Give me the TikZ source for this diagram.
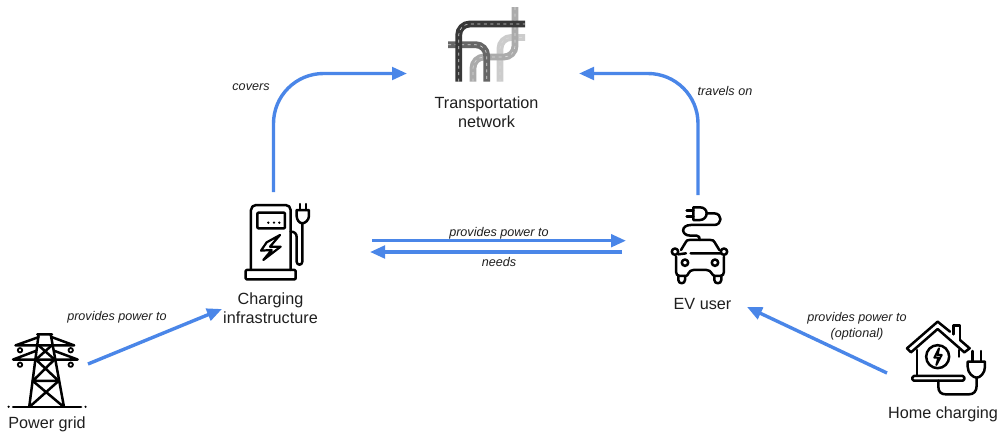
\documentclass[tikz,border=0pt]{standalone}
\usepackage{fontspec}
\setmainfont{Liberation Sans}
\definecolor{flowblue}{HTML}{4A86E8}
\definecolor{inkgray}{HTML}{1F1F1F}
\tikzset{
  flow/.style={draw=flowblue, line width=3.4pt, -{Triangle[length=15pt,width=12.5pt]}},
  title/.style={inner sep=0pt, align=center, text=inkgray, font=\fontsize{16.2}{19.4}\selectfont},
  relation/.style={inner sep=0pt, align=center, text=inkgray, font=\fontsize{12.6}{15.5}\selectfont\itshape},
  icon/.style={draw=black, line width=2.5pt, line cap=round, line join=round},
  road/.style={line width=6.8pt, rounded corners=11pt},
  lane/.style={draw=white!85!black, line width=0.6pt, dash pattern=on 3pt off 3.5pt, rounded corners=11pt}
}
\usetikzlibrary{arrows.meta}
\begin{document}
\begin{tikzpicture}[x=1pt,y=-1pt]
  \useasboundingbox[fill=white] (0,0) rectangle (1005,434);

  % transportation network icon
  \draw[road,draw=black!20] (500,81.7) -- (500,37.5) -- (525,37.5);
  \draw[lane] (500,81.7) -- (500,37.5) -- (525,37.5);
  \draw[road,draw=black!33] (515,7) -- (515,57) -- (473,57) -- (473,81.7);
  \draw[lane] (515,7) -- (515,57) -- (473,57) -- (473,81.7);
  \draw[road,draw=black!60] (448,44.7) -- (486.7,44.7) -- (486.7,81.7);
  \draw[lane] (448,44.7) -- (486.7,44.7) -- (486.7,81.7);
  \draw[road,draw=black!78] (458.7,81.7) -- (458.7,24) -- (525,24);
  \draw[lane] (458.7,81.7) -- (458.7,24) -- (525,24);

  % charging station icon
  \begin{scope}[shift={(225,190)},x=0.3333pt,y=-0.3333pt]
    \draw[icon,rounded corners=5pt] (78,240) -- (78,45) -- (197,45) -- (197,240);
    \draw[icon,rounded corners=1pt] (62,240) rectangle (212,268);
    \draw[icon,rounded corners=1pt] (97,68) rectangle (180,115);
    \foreach \dotx in {130,147,163}
      \fill (\dotx,98) circle (1.3pt);
    \draw[icon,line width=2.2pt] (165,135) -- (125,157) -- (108,182) -- (140,180) -- (115,210) -- (167,170) -- (135,170) -- cycle;
    \draw[icon] (197,125) .. controls (208,125) and (215,130) .. (215,142) -- (215,215) .. controls (215,227) and (232,227) .. (232,215) -- (232,100);
    \draw[icon] (215,60) -- (252,60) -- (252,78) .. controls (252,90) and (240,100) .. (232,100) .. controls (224,100) and (215,90) .. (215,78) -- cycle;
    \draw[icon] (225,42) -- (225,60) (243,42) -- (243,60);
  \end{scope}

  % electric car icon
  \begin{scope}[shift={(650,195)},x=0.3333pt,y=-0.3333pt]
    \draw[icon] (150,37) -- (130,37) -- (130,75) -- (150,75) .. controls (162,75) and (170,65) .. (170,55) .. controls (170,45) and (162,37) .. (150,37) -- cycle;
    \draw[icon] (110,47) -- (130,47) (110,65) -- (130,65);
    \draw[icon] (170,55) -- (192,55) .. controls (218,55) and (218,90) .. (192,90) -- (122,90) .. controls (92,90) and (92,122) .. (122,122) -- (140,122) .. controls (148,122) and (149,128) .. (149,135);
    \draw[icon] (93,165) -- (107,142) .. controls (110,136) and (112,135) .. (118,135) -- (182,135) .. controls (188,135) and (191,136) .. (194,142) -- (208,165);
    \draw[icon] (75,170) circle (3.2pt) (222,170) circle (3.2pt);
    \draw[icon] (85,178) -- (108,175) (122,175) -- (212,175);
    \draw[icon] (78,185) -- (78,230) .. controls (78,238) and (82,243) .. (90,243) -- (108,243) .. controls (115,243) and (115,225) .. (130,225) -- (170,225) .. controls (185,225) and (185,243) .. (195,243) -- (210,243) .. controls (218,243) and (222,238) .. (222,230) -- (222,185);
    \draw[icon] (105,203) circle (3.2pt) (195,203) circle (3.2pt);
    \draw[icon] (85,243) -- (85,255) .. controls (85,268) and (105,268) .. (105,255) -- (105,243);
    \draw[icon] (193,243) -- (193,255) .. controls (193,268) and (214,268) .. (214,255) -- (214,243);
  \end{scope}

  % pylon icon
  \begin{scope}[shift={(0,324)},x=0.345pt,y=-0.345pt]
    \draw[icon] (38,240) -- (235,240);
    \fill (25,240) circle (1.2pt) (248,240) circle (1.2pt);
    \draw[icon] (112,30) -- (85,238) (147,30) -- (185,238) (108,30) -- (151,30);
    \draw[icon] (45,62) -- (215,62) -- (150,38) (45,62) -- (112,38);
    \draw[icon] (38,103) -- (225,103) -- (158,78) (38,103) -- (104,78);
    \draw[icon,line width=1.8pt] (58,76) circle (2.2pt) (205,76) circle (2.2pt) (58,118) circle (2.2pt) (205,118) circle (2.2pt);
    \draw[icon] (112,62) -- (158,103) -- (95,165) (150,62) -- (104,103) -- (170,165) (95,165) -- (168,165);
    \draw[icon] (95,165) -- (182,238) (170,165) -- (88,238);
  \end{scope}

  % home charging icon
  \begin{scope}[shift={(895,315)},x=0.3333pt,y=-0.3333pt]
    \draw[icon] (165,50) -- (128,20) -- (36,100) -- (48,112) -- (128,42) -- (208,112) -- (224,100) -- (195,75);
    \draw[icon] (175,58) -- (175,32) -- (195,32) -- (195,75);
    \draw[icon] (66,105) -- (66,183) (192,105) -- (192,125);
    \draw[icon,rounded corners=1.5pt] (52,183) rectangle (208,197);
    \draw[icon] (128,125) circle (11.5pt);
    \draw[icon,line width=2pt] (132,100) -- (118,128) -- (130,128) -- (124,150) -- (140,120) -- (128,120) -- cycle;
    \draw[icon] (218,140) -- (270,140) -- (270,155) .. controls (270,175) and (255,188) .. (245,188) .. controls (235,188) and (218,175) .. (218,155) -- cycle;
    \draw[icon] (232,108) -- (232,140) (258,108) -- (258,140);
    \draw[icon] (245,188) -- (245,212) .. controls (245,230) and (235,238) .. (222,238) -- (152,238) .. controls (138,238) and (130,230) .. (130,215) -- (130,197);
  \end{scope}

  \node[title] (network) at (486.5,112.5) {Transportation\\network};
  \node[title] (charging) at (270.5,308.5) {Charging\\infrastructure};
  \node[title] (evuser) at (702.5,304) {EV user};
  \node[title] (grid) at (47,424) {Power grid};
  \node[title] (home) at (943,414) {Home charging};

  \node[relation] (covers) at (251,87) {covers};
  \node[relation] (travels) at (725,91) {travels on};
  \node[relation] (gives) at (499,233) {provides power to};
  \node[relation] (needs) at (499,262) {needs};
  \node[relation] (gridgives) at (117,317) {provides power to};
  \node[relation] (homegives) at (857,326) {provides power to\\(optional)};

  % free ends of the arrows
  \coordinate (chargertop) at (273.5,192);
  \coordinate (networkleft) at (407,73.5);
  \coordinate (usertop) at (698,195);
  \coordinate (networkright) at (579,73.5);
  \coordinate (chargerout) at (372,240.7);
  \coordinate (userin) at (626,240.7);
  \coordinate (userout) at (622,252);
  \coordinate (chargerin) at (370,252);
  \coordinate (gridout) at (88,364);
  \coordinate (gridin) at (222,309);
  \coordinate (homeout) at (887,373);
  \coordinate (homein) at (747,307);

  \draw[flow,rounded corners=50pt] (chargertop) |- (networkleft);
  \draw[flow,rounded corners=50pt] (usertop) |- (networkright);
  \draw[flow] (chargerout) -- (userin);
  \draw[flow] (userout) -- (chargerin);
  \draw[flow] (gridout) -- (gridin);
  \draw[flow] (homeout) -- (homein);

\end{tikzpicture}
\end{document}
